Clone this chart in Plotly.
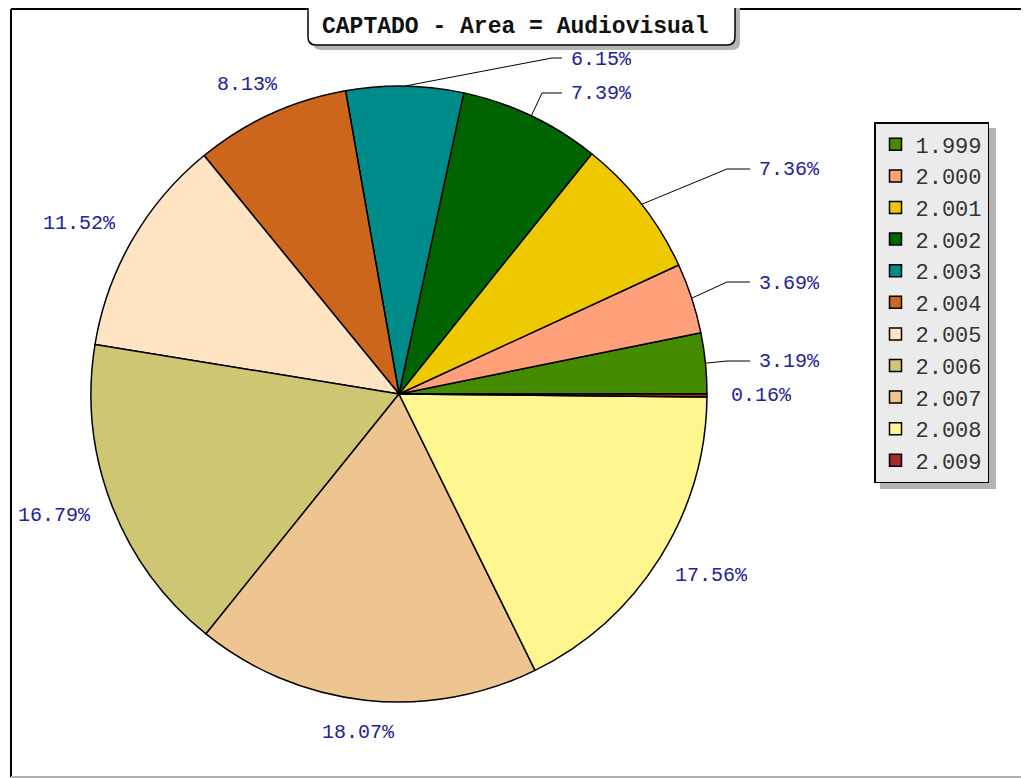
import math
import plotly.graph_objects as go

# ---------------- data ----------------
years = ["1.999", "2.000", "2.001", "2.002", "2.003", "2.004",
         "2.005", "2.006", "2.007", "2.008", "2.009"]
percent = [3.19, 3.69, 7.36, 7.39, 6.15, 8.13, 11.52, 16.79, 18.07, 17.56, 0.16]
colors = ["#458b00", "#ffa07a", "#eec900", "#006400", "#008b8b", "#cd661d",
          "#ffe4c4", "#cdc673", "#eec591", "#fff68f", "#a52a2a"]
title_text = "CAPTADO - Area = Audiovisual"

# ---------------- layout (viewport pixels) ----------------
W, H = 1029, 778
OFF = 8                      # page body margin
CX, CY, R = 399, 394, 308
LABEL_COLOR = "#22229a"
LABEL_FONT = "Liberation Mono"
# labels drawn with leader lines: index -> (elbow_x, elbow_y, line_end_x)
LEADERS = {0: (727, 361, 750), 1: (727, 282, 750), 2: (727, 169, 750),
           3: (542, 93, 562), 4: (552, 58, 562)}


def px(x):
    return (x - OFF) / W


def py(y):
    return 1 - (y - OFF) / H


total = sum(percent)
first_angle = percent[0] / total * 360

fig = go.Figure(go.Pie(
    labels=years, values=percent, sort=False, direction="counterclockwise",
    rotation=90 - first_angle, textinfo="none", hoverinfo="label+percent",
    marker=dict(colors=colors, line=dict(color="#000000", width=1.5)),
    domain=dict(x=[px(CX - R), px(CX + R)], y=[py(CY + R), py(CY - R)]),
    showlegend=True,
))

shapes = []
annotations = []

# outer frame
shapes.append(dict(type="line", xref="paper", yref="paper", x0=px(11), x1=1,
                   y0=py(9), y1=py(9), line=dict(color="#000", width=2)))
shapes.append(dict(type="line", xref="paper", yref="paper", x0=px(11), x1=px(11),
                   y0=py(9), y1=py(777), line=dict(color="#000", width=2)))
shapes.append(dict(type="line", xref="paper", yref="paper", x0=px(11), x1=1,
                   y0=py(777), y1=py(777), line=dict(color="#b0b0b0", width=2)))

# slice labels
cum = 0.0
for i, v in enumerate(percent):
    mid = (cum + v / 2) / total * 2 * math.pi
    cum += v
    c, s = math.cos(mid), math.sin(mid)
    txt = f"{v:.2f}%"
    if i in LEADERS:
        ex, ey, endx = LEADERS[i]
        sx, sy = CX + R * c, CY - R * s
        path = (f"M {px(sx)},{py(sy)} L {px(ex)},{py(ey)} L {px(endx)},{py(ey)}")
        shapes.append(dict(type="path", xref="paper", yref="paper", path=path,
                           line=dict(color="#000", width=1)))
        annotations.append(dict(x=px(endx + 7), y=py(ey + 1), xref="paper", yref="paper",
                                text=txt, showarrow=False, xanchor="left", yanchor="middle",
                                font=dict(family=LABEL_FONT, size=20, color=LABEL_COLOR)))
    else:
        w = len(txt) * 12.0
        h = 16
        ax, ay = CX + 1.08 * R * c, CY - 1.08 * R * s
        tx, ty = ax + c * w / 2, ay - s * h / 2
        annotations.append(dict(x=px(tx), y=py(ty), xref="paper", yref="paper",
                                text=txt, showarrow=False, xanchor="center", yanchor="middle",
                                font=dict(family=LABEL_FONT, size=20, color=LABEL_COLOR)))


# title box with shadow
def rounded_box(x0, y0, x1, y1, r):
    return (f"M {px(x0 + r)},{py(y0)} L {px(x1 - r)},{py(y0)} "
            f"Q {px(x1)},{py(y0)} {px(x1)},{py(y0 + r)} L {px(x1)},{py(y1 - r)} "
            f"Q {px(x1)},{py(y1)} {px(x1 - r)},{py(y1)} L {px(x0 + r)},{py(y1)} "
            f"Q {px(x0)},{py(y1)} {px(x0)},{py(y1 - r)} L {px(x0)},{py(y0 + r)} "
            f"Q {px(x0)},{py(y0)} {px(x0 + r)},{py(y0)} Z")


shapes.append(dict(type="path", xref="paper", yref="paper",
                   path=rounded_box(313, -20, 740, 50, 8),
                   fillcolor="#b4b4b4", line=dict(width=0)))
shapes.append(dict(type="path", xref="paper", yref="paper",
                   path=rounded_box(308, -20, 735, 45, 8),
                   fillcolor="#ffffff", line=dict(color="#000", width=1.5)))
annotations.append(dict(x=px(515), y=py(27), xref="paper", yref="paper",
                        text="<b>" + title_text + "</b>", showarrow=False,
                        xanchor="center", yanchor="middle",
                        font=dict(family="Liberation Mono", size=23, color="#111")))

# legend shadow
shapes.append(dict(type="rect", xref="paper", yref="paper",
                   x0=px(880), x1=px(996), y0=py(128), y1=py(489),
                   fillcolor="#b4b4b4", line=dict(width=0), layer="below"))

fig.update_layout(
    width=W, height=H,
    margin=dict(l=0, r=0, t=0, b=0),
    paper_bgcolor="#ffffff", plot_bgcolor="#ffffff",
    shapes=shapes, annotations=annotations,
    legend=dict(x=px(874), y=py(122), xanchor="left", yanchor="top",
                bgcolor="#ebebeb", bordercolor="#000", borderwidth=1.5,
                font=dict(family="Liberation Mono", size=22, color="#333"),
                traceorder="normal"),
)

fig.write_html("out.html")
